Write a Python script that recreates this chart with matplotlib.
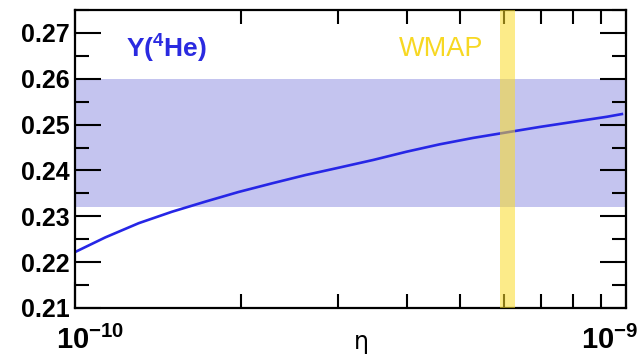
import matplotlib
matplotlib.use("Agg")
import matplotlib.pyplot as plt
import matplotlib.transforms as mtransforms
import numpy as np

plt.rcParams['font.family'] = ['Liberation Sans', 'DejaVu Sans']
plt.rcParams['mathtext.fontset'] = 'custom'
plt.rcParams['mathtext.rm'] = 'Liberation Sans'
plt.rcParams['mathtext.bf'] = 'Liberation Sans:bold'

# Y(4He) versus baryon-to-photon ratio eta
eta = np.array([1.0, 1.135, 1.305, 1.50, 1.724, 1.98, 2.28, 2.62, 3.01,
                3.48, 4.0, 4.59, 5.28, 6.07, 6.98, 8.02, 9.22, 9.83]) * 1e-10
yp = [0.2222, 0.2254, 0.2285, 0.2310, 0.2332, 0.2353, 0.2372, 0.2390, 0.2406,
      0.2423, 0.2441, 0.2457, 0.2471, 0.2483, 0.2495, 0.2506, 0.2517, 0.2523]

# observed helium band and WMAP eta range
yp_band = (0.232, 0.260)
wmap_band = (5.9e-10, 6.3e-10)

xtick_vals = [1e-10, 1e-9]
xtick_labels = [r'$\mathbf{10^{-10}}$', r'$\mathbf{10^{-9}}$']
ytick_vals = [0.21, 0.22, 0.23, 0.24, 0.25, 0.26, 0.27]

fig = plt.figure(figsize=(6.41, 3.56), dpi=100)
ax = fig.add_axes([75 / 641, 48 / 356, 551 / 641, 298 / 356])

ax.axhspan(yp_band[0], yp_band[1], color='#c4c4ef', lw=0, zorder=1)
ax.plot(eta, yp, color='#2626e6', lw=1.9, zorder=2)
ax.axvspan(wmap_band[0], wmap_band[1], color='#fadc28', alpha=0.55, lw=0, zorder=3)

ax.set_xscale('log')
ax.set_xlim(1e-10, 1e-9)
ax.set_ylim(0.21, 0.275)

ax.set_xticks(xtick_vals, xtick_labels)
ax.set_yticks(ytick_vals, [f'{v:.2f}' for v in ytick_vals])
ax.yaxis.set_minor_locator(matplotlib.ticker.MultipleLocator(0.005))
ax.xaxis.set_minor_formatter(matplotlib.ticker.NullFormatter())

ax.tick_params(axis='both', which='both', direction='in', top=True, right=True, width=1.5)
ax.tick_params(axis='y', which='major', length=19, labelsize=18, pad=4)
ax.tick_params(axis='y', which='minor', length=10)
ax.tick_params(axis='x', which='major', length=19, labelsize=21, pad=13)
ax.tick_params(axis='x', which='minor', length=10)
for lab in ax.get_yticklabels():
    lab.set_fontweight('bold')

# shift the x tick labels like in the picture
offsets = [15, -16]
for lab, dx in zip(ax.get_xticklabels(), offsets):
    lab.set_transform(lab.get_transform() + mtransforms.ScaledTranslation(dx / 100, 0, fig.dpi_scale_trans))

for sp in ax.spines.values():
    sp.set_linewidth(1.6)

ax.text((361 - 75) / 551, -0.075, 'η', transform=ax.transAxes, ha='center', va='top',
        fontsize=17, family='DejaVu Sans')
ax.text((126 - 75) / 551, 0.868, r'$\mathbf{Y(^4He)}$', transform=ax.transAxes,
        color='#2a2ae0', fontsize=19, ha='left', va='center')
ax.text((399 - 75) / 551, 0.868, 'WMAP', transform=ax.transAxes,
        color='#f7d823', fontsize=19.5, ha='left', va='center')

fig.savefig('out.png', dpi=100)
